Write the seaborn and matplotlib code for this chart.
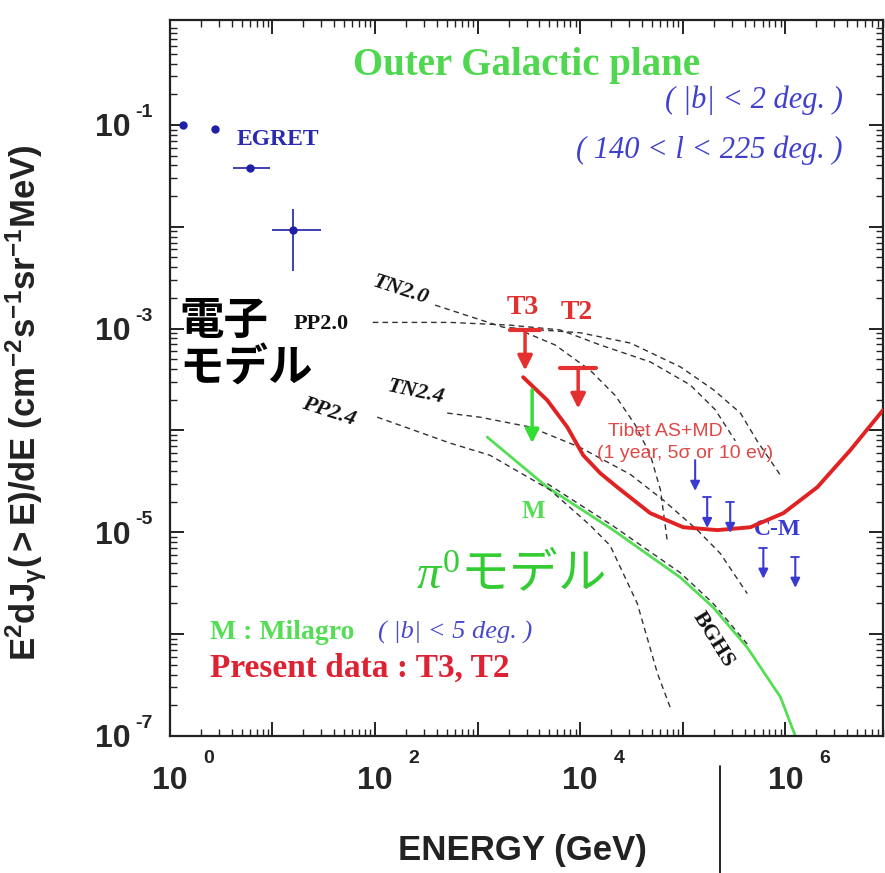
import matplotlib
matplotlib.use("Agg")
import matplotlib.pyplot as plt
import matplotlib.ticker as mticker
import seaborn as sns
import pandas as pd
from matplotlib.lines import Line2D

# EGRET points (GeV, flux)
egret_E = [1.34, 2.75, 6.0, 15.9]
egret_F = [0.100, 0.091, 0.038, 0.0093]
egret_Elo = [1.34, 2.75, 4.1, 9.9]
egret_Ehi = [1.34, 2.75, 9.5, 30.0]
egret_Flo = [0.100, 0.091, 0.038, 0.0037]
egret_Fhi = [0.100, 0.091, 0.038, 0.0149]

# model curves (dashed)
tn20_E = [385, 1780, 1.0e4, 3.1e4, 9.5e4, 2.0e5, 3.65e5, 5.3e5, 9.0e5]
tn20_F = [1.7e-3, 1.03e-3, 9.1e-4, 7.2e-4, 4.2e-4, 2.5e-4, 1.48e-4, 7.9e-5, 3.6e-5]
pp20_E = [95, 540, 2080, 6380, 1.57e4, 4.84e4, 1.18e5, 2.07e5, 3.25e5]
pp20_F = [1.15e-3, 1.15e-3, 1.08e-3, 9.7e-4, 6.9e-4, 4.7e-4, 2.8e-4, 1.6e-4, 7.9e-5]
pp20c_E = [2320, 5700, 1.25e4, 2.2e4, 3.44e4, 4.84e4, 6.06e4, 7.05e4]
pp20c_F = [1.01e-3, 6.9e-4, 3.9e-4, 2.2e-4, 1.13e-4, 5.7e-5, 2.6e-5, 8.3e-6]
tn24_E = [505, 1050, 3250, 1.0e4, 3.08e4, 6.45e4, 1.39e5, 2.32e5, 4.25e5]
tn24_F = [1.48e-4, 1.35e-4, 1.08e-4, 6.8e-5, 3.7e-5, 2.07e-5, 1.05e-5, 6.2e-6, 2.5e-6]
pp24_E = [105, 540, 1320, 5100, 1.25e4, 1.96e4, 3.6e4, 5.67e4, 7.55e4]
pp24_F = [1.35e-4, 7.5e-5, 5.7e-5, 2.6e-5, 1.17e-5, 7.4e-6, 2.0e-6, 4.1e-7, 1.9e-7]
bghs_E = [4780, 2.1e4, 9.47e4, 1.98e5, 4.25e5]
bghs_F = [3.0e-5, 1.15e-5, 4.0e-6, 2.0e-6, 8.0e-7]

# Milagro (M) line and upper limit
milagro_E = [1240, 4780, 2.1e4, 9.47e4, 1.98e5, 4.25e5, 8.97e5, 1.25e6]
milagro_F = [8.6e-5, 2.77e-5, 1.05e-5, 3.6e-6, 1.83e-6, 7.4e-7, 2.4e-7, 1.0e-7]
milagro_ul_E = [3400]
milagro_ul_F = [2.5e-4]

# Tibet AS+MD sensitivity
tibet_E = [2780, 4770, 7470, 1.07e4, 1.57e4, 2.3e4, 4.82e4, 1.01e5, 2.17e5,
           4.56e5, 9.56e5, 2.05e6, 4.3e6, 9.04e6]
tibet_F = [3.33e-4, 1.98e-4, 1.08e-4, 5.7e-5, 3.8e-5, 2.77e-5, 1.54e-5, 1.12e-5, 1.05e-5,
           1.12e-5, 1.54e-5, 2.77e-5, 6.4e-5, 1.6e-4]

# present data upper limits T3, T2
present_lab = ["T3", "T2"]
present_E = [2900, 9550]
present_F = [9.7e-4, 4.1e-4]

# CASA-MIA upper limits
cm_E = [1.32e5, 1.73e5, 2.9e5, 6.1e5, 1.25e6]
cm_F = [5.1e-5, 2.2e-5, 1.97e-5, 7.0e-6, 5.7e-6]

x_ticks = [1, 10, 100, 1e3, 1e4, 1e5, 1e6]
x_exps = ["0", "", "2", "", "4", "", "6"]
y_ticks = [1e-7, 1e-6, 1e-5, 1e-4, 1e-3, 1e-2, 1e-1]
y_exps = ["-7", "", "-5", "", "-3", "", "-1"]

sns.set_theme(style="ticks")
plt.rcParams["font.family"] = ["Liberation Sans", "DejaVu Sans"]
plt.rcParams["mathtext.fontset"] = "custom"
plt.rcParams["mathtext.rm"] = "Liberation Serif"
plt.rcParams["mathtext.it"] = "Liberation Serif:italic"
plt.rcParams["mathtext.bf"] = "Liberation Sans:bold"

fig = plt.figure(figsize=(8.85, 8.73), dpi=100)
ax = fig.add_axes([0.192, 0.157, 0.806, 0.820])

dash = (4, 3)
for E, F in [(tn20_E, tn20_F), (pp20_E, pp20_F), (pp20c_E, pp20c_F),
             (tn24_E, tn24_F), (pp24_E, pp24_F), (bghs_E, bghs_F)]:
    sns.lineplot(x=E, y=F, ax=ax, color="#333333", lw=1.0,
                 estimator=None, sort=False, zorder=3).lines[-1].set_dashes(dash)

sns.lineplot(x=milagro_E, y=milagro_F, ax=ax, color="#55dd55", lw=2.0,
             estimator=None, sort=False, zorder=2)
sns.lineplot(x=tibet_E, y=tibet_F, ax=ax, color="#e02222", lw=2.8,
             estimator=None, sort=False, zorder=4, solid_joinstyle="round")

# EGRET
egret = pd.DataFrame({"E": egret_E, "F": egret_F})
ax.errorbar(egret["E"], egret["F"],
            xerr=[[e - l for e, l in zip(egret_E, egret_Elo)], [h - e for e, h in zip(egret_E, egret_Ehi)]],
            yerr=[[f - l for f, l in zip(egret_F, egret_Flo)], [h - f for f, h in zip(egret_F, egret_Fhi)]],
            fmt="o", ms=5, color="#1f1fa8", elinewidth=1.2, capsize=0, zorder=5)

# upper limits
for lab, E, F in zip(present_lab, present_E, present_F):
    w = 1.40 if lab == "T3" else 1.50
    ax.plot([E / w, E * w], [F, F], color="#e53030", lw=3, zorder=6)
    ax.annotate("", xy=(E, F * 0.40), xytext=(E, F), zorder=6,
                arrowprops=dict(arrowstyle="-|>", color="#e53030", lw=2.5,
                                mutation_scale=22, shrinkA=0, shrinkB=0))
for E, F in zip(milagro_ul_E, milagro_ul_F):
    ax.annotate("", xy=(E, F * 0.30), xytext=(E, F), zorder=6,
                arrowprops=dict(arrowstyle="-|>", color="#33dd33", lw=2.5,
                                mutation_scale=20, shrinkA=0, shrinkB=0))
for E, F in zip(cm_E, cm_F):
    if E > 1.4e5:
        ax.plot([E / 1.09, E * 1.09], [F, F], color="#3a3ad0", lw=1.3, zorder=6)
    ax.annotate("", xy=(E, F * 0.50), xytext=(E, F), zorder=6,
                arrowprops=dict(arrowstyle="-|>", color="#3a3ad0", lw=1.5,
                                mutation_scale=14, shrinkA=0, shrinkB=0))

ax.set_xscale("log")
ax.set_yscale("log")
ax.set_xlim(1.0, 9.0e6)
ax.set_ylim(1e-7, 1.07)

# ticks: "10" as tick label, exponent as separate small text
ax.xaxis.set_major_locator(mticker.FixedLocator(x_ticks))
ax.xaxis.set_major_formatter(mticker.FixedFormatter(["10" if s else "" for s in x_exps]))
ax.yaxis.set_major_locator(mticker.FixedLocator(y_ticks))
ax.yaxis.set_major_formatter(mticker.FixedFormatter(["10" if s else "" for s in y_exps]))
for a in (ax.xaxis, ax.yaxis):
    a.set_minor_locator(mticker.LogLocator(base=10, subs=range(2, 10), numticks=20))
    a.set_minor_formatter(mticker.NullFormatter())
ax.tick_params(which="both", direction="in", top=True, right=True, color="#222222")
ax.tick_params(which="major", length=10, width=1.4)
ax.tick_params(which="minor", length=5, width=1.0)
ax.tick_params(axis="x", which="major", labelsize=23, pad=22)
ax.tick_params(axis="y", which="major", labelsize=23, pad=28)
for lab in ax.get_xticklabels() + ax.get_yticklabels():
    lab.set_fontweight("bold")
for t, s in zip(x_ticks, x_exps):
    if s:
        ax.annotate(s, xy=(t, 0), xycoords=("data", "axes fraction"), xytext=(28, -16),
                    textcoords="offset points", ha="center", va="center",
                    fontsize=14, fontweight="bold", color="#222222")
for t, s in zip(y_ticks, y_exps):
    if s:
        ax.annotate(s, xy=(0, t), xycoords=("axes fraction", "data"), xytext=(-25, 9),
                    textcoords="offset points", ha="left", va="center",
                    fontsize=14, fontweight="bold", color="#222222")
for s in ax.spines.values():
    s.set_linewidth(1.6)
    s.set_color("#222222")

ax.set_xlabel("ENERGY (GeV)", fontsize=25, fontweight="bold", color="#222222")
ax.xaxis.set_label_coords(0.494, -0.137)
ax.set_ylabel(r"$\mathbf{E^{2}dJ_{\gamma}(>E)/dE\ (cm^{-2}s^{-1}sr^{-1}MeV)}$",
              fontsize=25, color="#222222")
ax.yaxis.set_label_coords(-0.170, 0.466)

serif = ["Liberation Serif", "DejaVu Serif"]
ax.text(0.50, 0.936, "Outer Galactic plane", transform=ax.transAxes, ha="center", va="center",
        color="#4fd84f", fontsize=28, fontweight="bold", family=serif)
ax.text(0.943, 0.888, "( |b| < 2 deg. )", transform=ax.transAxes, ha="right", va="center",
        color="#4040cc", fontsize=22, style="italic", family=serif)
ax.text(0.943, 0.818, "( 140 < l < 225 deg. )", transform=ax.transAxes, ha="right", va="center",
        color="#4040cc", fontsize=22, style="italic", family=serif)
ax.text(0.094, 0.833, "EGRET", transform=ax.transAxes, ha="left", va="center",
        color="#2a2ab0", fontsize=17, fontweight="bold", family=serif)

model_labels = [("TN2.0", 0.323, 0.623, -18, "italic"), ("PP2.0", 0.212, 0.575, 0, "normal"),
                ("TN2.4", 0.344, 0.481, -12, "italic"), ("PP2.4", 0.222, 0.453, -18, "italic")]
for txt, x, y, rot, st in model_labels:
    ax.text(x, y, txt, transform=ax.transAxes, ha="center", va="center", rotation=rot,
            fontsize=16, fontweight="bold", style=st, family=serif, color="#111111")
ax.text(0.761, 0.135, "BGHS", transform=ax.transAxes, ha="center", va="center", rotation=-58,
        fontsize=16, fontweight="bold", family=serif, color="#111111")

ax.text(0.494, 0.599, "T3", transform=ax.transAxes, ha="center", va="center",
        color="#e03030", fontsize=20, fontweight="bold", family=serif)
ax.text(0.571, 0.591, "T2", transform=ax.transAxes, ha="center", va="center",
        color="#e03030", fontsize=20, fontweight="bold", family=serif)
ax.text(0.695, 0.425, "Tibet AS+MD", transform=ax.transAxes, ha="center", va="center",
        color="#e04848", fontsize=14)
ax.text(0.722, 0.395, "(1 year, 5σ or 10 ev)", transform=ax.transAxes, ha="center", va="center",
        color="#e04848", fontsize=14)
ax.text(0.510, 0.313, "M", transform=ax.transAxes, ha="center", va="center",
        color="#55dd55", fontsize=18, fontweight="bold", family=serif)
ax.text(0.851, 0.288, "C-M", transform=ax.transAxes, ha="center", va="center",
        color="#3a3ad0", fontsize=17, fontweight="bold", family=serif)

ax.text(0.056, 0.145, "M : Milagro", transform=ax.transAxes, ha="left", va="center",
        color="#55dd55", fontsize=20, fontweight="bold", family=serif)
ax.text(0.292, 0.145, "( |b| < 5 deg. )", transform=ax.transAxes, ha="left", va="center",
        color="#4848cc", fontsize=19, style="italic", family=serif)
ax.text(0.056, 0.095, "Present data : T3, T2", transform=ax.transAxes, ha="left", va="center",
        color="#dd2233", fontsize=24, fontweight="bold", family=serif)

cjk = ["Noto Sans CJK JP", "DejaVu Sans"]
ax.text(0.013, 0.580, "電子", transform=ax.transAxes, ha="left", va="center",
        color="black", fontsize=32, fontweight="bold", family=cjk)
ax.text(0.013, 0.515, "モデル", transform=ax.transAxes, ha="left", va="center",
        color="black", fontsize=32, fontweight="bold", family=cjk)
ax.text(0.345, 0.225, r"$\pi^{0}$モデル", transform=ax.transAxes, ha="left", va="center",
        color="#33cc33", fontsize=35, family=cjk)

# stray vertical line below the axis
fig.add_artist(Line2D([0.813, 0.813], [0.0, 0.123], transform=fig.transFigure,
                      color="black", lw=1.2))

fig.savefig("out.png", dpi=100)
